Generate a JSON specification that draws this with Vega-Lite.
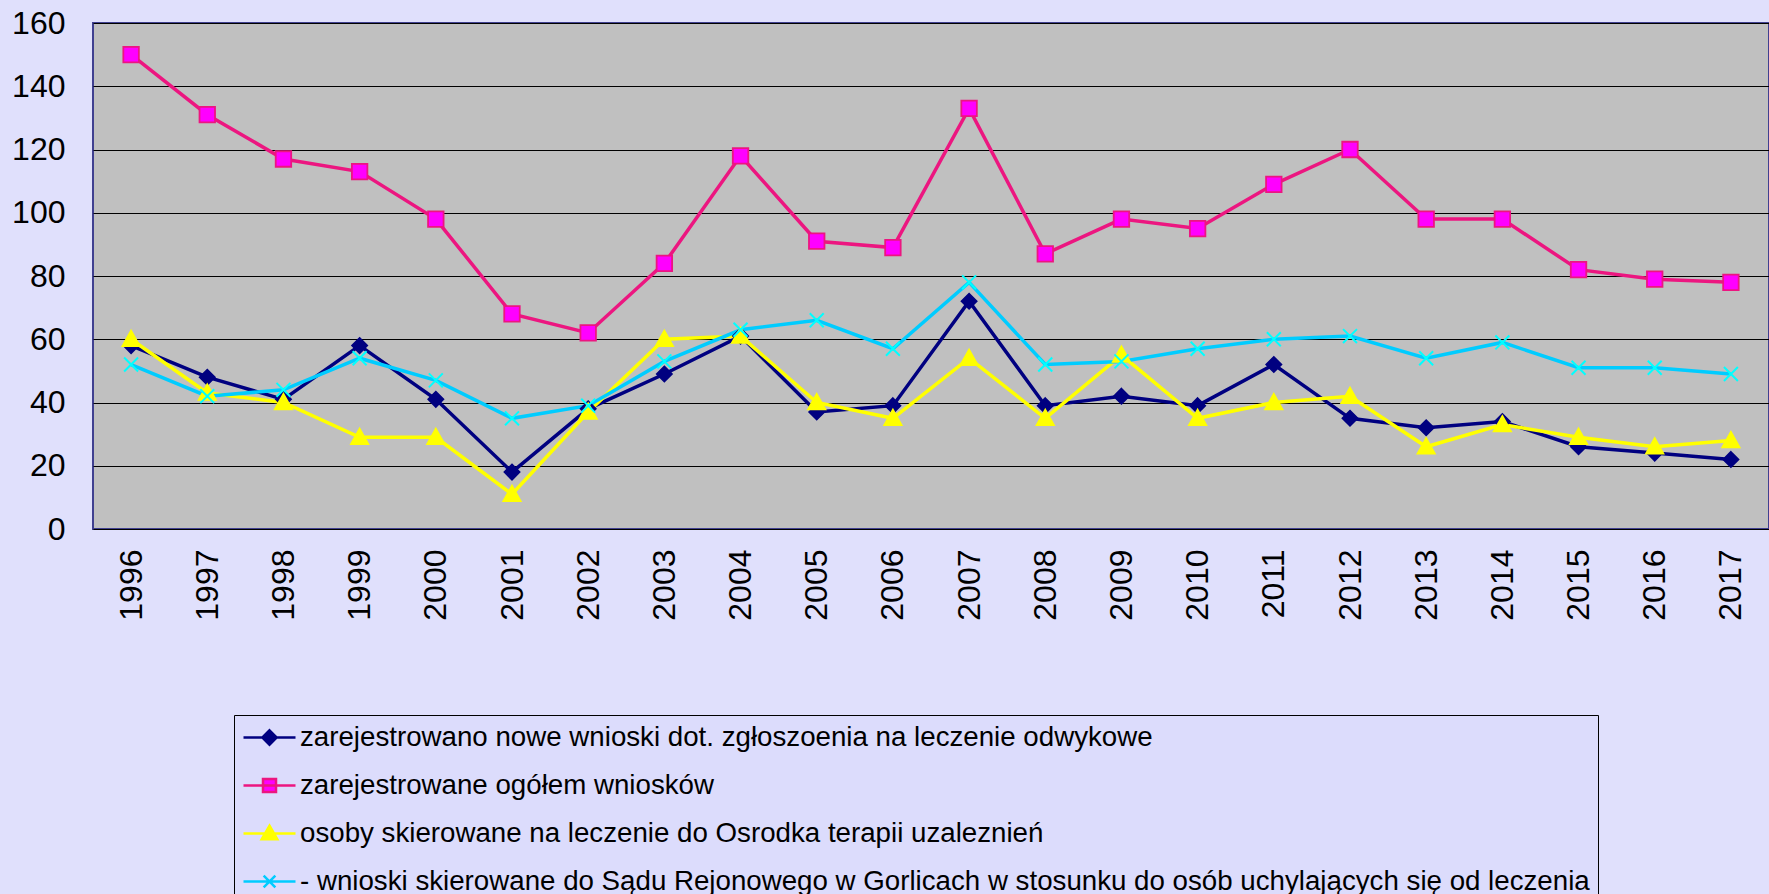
{
  "$schema": "https://vega.github.io/schema/vega-lite/v6.json",
  "width": 1676,
  "height": 506,
  "autosize": {"type": "none"},
  "padding": {"left": 93, "top": 23, "right": 0, "bottom": 365},
  "background": "#e0e0fc",
  "config": {
    "font": "Liberation Sans",
    "view": {"fill": "#c0c0c0", "stroke": "#404090", "strokeWidth": 2}
  },
  "datasets": {
    "rows": [
      {"year": "1996", "series": "zarejestrowano  nowe wnioski dot. zgłoszoenia  na leczenie odwykowe", "value": 58},
      {"year": "1997", "series": "zarejestrowano  nowe wnioski dot. zgłoszoenia  na leczenie odwykowe", "value": 48},
      {"year": "1998", "series": "zarejestrowano  nowe wnioski dot. zgłoszoenia  na leczenie odwykowe", "value": 41},
      {"year": "1999", "series": "zarejestrowano  nowe wnioski dot. zgłoszoenia  na leczenie odwykowe", "value": 58},
      {"year": "2000", "series": "zarejestrowano  nowe wnioski dot. zgłoszoenia  na leczenie odwykowe", "value": 41},
      {"year": "2001", "series": "zarejestrowano  nowe wnioski dot. zgłoszoenia  na leczenie odwykowe", "value": 18},
      {"year": "2002", "series": "zarejestrowano  nowe wnioski dot. zgłoszoenia  na leczenie odwykowe", "value": 38},
      {"year": "2003", "series": "zarejestrowano  nowe wnioski dot. zgłoszoenia  na leczenie odwykowe", "value": 49},
      {"year": "2004", "series": "zarejestrowano  nowe wnioski dot. zgłoszoenia  na leczenie odwykowe", "value": 61},
      {"year": "2005", "series": "zarejestrowano  nowe wnioski dot. zgłoszoenia  na leczenie odwykowe", "value": 37},
      {"year": "2006", "series": "zarejestrowano  nowe wnioski dot. zgłoszoenia  na leczenie odwykowe", "value": 39},
      {"year": "2007", "series": "zarejestrowano  nowe wnioski dot. zgłoszoenia  na leczenie odwykowe", "value": 72},
      {"year": "2008", "series": "zarejestrowano  nowe wnioski dot. zgłoszoenia  na leczenie odwykowe", "value": 39},
      {"year": "2009", "series": "zarejestrowano  nowe wnioski dot. zgłoszoenia  na leczenie odwykowe", "value": 42},
      {"year": "2010", "series": "zarejestrowano  nowe wnioski dot. zgłoszoenia  na leczenie odwykowe", "value": 39},
      {"year": "2011", "series": "zarejestrowano  nowe wnioski dot. zgłoszoenia  na leczenie odwykowe", "value": 52},
      {"year": "2012", "series": "zarejestrowano  nowe wnioski dot. zgłoszoenia  na leczenie odwykowe", "value": 35},
      {"year": "2013", "series": "zarejestrowano  nowe wnioski dot. zgłoszoenia  na leczenie odwykowe", "value": 32},
      {"year": "2014", "series": "zarejestrowano  nowe wnioski dot. zgłoszoenia  na leczenie odwykowe", "value": 34},
      {"year": "2015", "series": "zarejestrowano  nowe wnioski dot. zgłoszoenia  na leczenie odwykowe", "value": 26},
      {"year": "2016", "series": "zarejestrowano  nowe wnioski dot. zgłoszoenia  na leczenie odwykowe", "value": 24},
      {"year": "2017", "series": "zarejestrowano  nowe wnioski dot. zgłoszoenia  na leczenie odwykowe", "value": 22},
      {"year": "1996", "series": "zarejestrowane ogółem wniosków", "value": 150},
      {"year": "1997", "series": "zarejestrowane ogółem wniosków", "value": 131},
      {"year": "1998", "series": "zarejestrowane ogółem wniosków", "value": 117},
      {"year": "1999", "series": "zarejestrowane ogółem wniosków", "value": 113},
      {"year": "2000", "series": "zarejestrowane ogółem wniosków", "value": 98},
      {"year": "2001", "series": "zarejestrowane ogółem wniosków", "value": 68},
      {"year": "2002", "series": "zarejestrowane ogółem wniosków", "value": 62},
      {"year": "2003", "series": "zarejestrowane ogółem wniosków", "value": 84},
      {"year": "2004", "series": "zarejestrowane ogółem wniosków", "value": 118},
      {"year": "2005", "series": "zarejestrowane ogółem wniosków", "value": 91},
      {"year": "2006", "series": "zarejestrowane ogółem wniosków", "value": 89},
      {"year": "2007", "series": "zarejestrowane ogółem wniosków", "value": 133},
      {"year": "2008", "series": "zarejestrowane ogółem wniosków", "value": 87},
      {"year": "2009", "series": "zarejestrowane ogółem wniosków", "value": 98},
      {"year": "2010", "series": "zarejestrowane ogółem wniosków", "value": 95},
      {"year": "2011", "series": "zarejestrowane ogółem wniosków", "value": 109},
      {"year": "2012", "series": "zarejestrowane ogółem wniosków", "value": 120},
      {"year": "2013", "series": "zarejestrowane ogółem wniosków", "value": 98},
      {"year": "2014", "series": "zarejestrowane ogółem wniosków", "value": 98},
      {"year": "2015", "series": "zarejestrowane ogółem wniosków", "value": 82},
      {"year": "2016", "series": "zarejestrowane ogółem wniosków", "value": 79},
      {"year": "2017", "series": "zarejestrowane ogółem wniosków", "value": 78},
      {"year": "1996", "series": "osoby skierowane na leczenie do Osrodka terapii uzaleznień", "value": 60},
      {"year": "1997", "series": "osoby skierowane na leczenie do Osrodka terapii uzaleznień", "value": 43},
      {"year": "1998", "series": "osoby skierowane na leczenie do Osrodka terapii uzaleznień", "value": 40},
      {"year": "1999", "series": "osoby skierowane na leczenie do Osrodka terapii uzaleznień", "value": 29},
      {"year": "2000", "series": "osoby skierowane na leczenie do Osrodka terapii uzaleznień", "value": 29},
      {"year": "2001", "series": "osoby skierowane na leczenie do Osrodka terapii uzaleznień", "value": 11},
      {"year": "2002", "series": "osoby skierowane na leczenie do Osrodka terapii uzaleznień", "value": 37},
      {"year": "2003", "series": "osoby skierowane na leczenie do Osrodka terapii uzaleznień", "value": 60},
      {"year": "2004", "series": "osoby skierowane na leczenie do Osrodka terapii uzaleznień", "value": 61},
      {"year": "2005", "series": "osoby skierowane na leczenie do Osrodka terapii uzaleznień", "value": 40},
      {"year": "2006", "series": "osoby skierowane na leczenie do Osrodka terapii uzaleznień", "value": 35},
      {"year": "2007", "series": "osoby skierowane na leczenie do Osrodka terapii uzaleznień", "value": 54},
      {"year": "2008", "series": "osoby skierowane na leczenie do Osrodka terapii uzaleznień", "value": 35},
      {"year": "2009", "series": "osoby skierowane na leczenie do Osrodka terapii uzaleznień", "value": 55},
      {"year": "2010", "series": "osoby skierowane na leczenie do Osrodka terapii uzaleznień", "value": 35},
      {"year": "2011", "series": "osoby skierowane na leczenie do Osrodka terapii uzaleznień", "value": 40},
      {"year": "2012", "series": "osoby skierowane na leczenie do Osrodka terapii uzaleznień", "value": 42},
      {"year": "2013", "series": "osoby skierowane na leczenie do Osrodka terapii uzaleznień", "value": 26},
      {"year": "2014", "series": "osoby skierowane na leczenie do Osrodka terapii uzaleznień", "value": 33},
      {"year": "2015", "series": "osoby skierowane na leczenie do Osrodka terapii uzaleznień", "value": 29},
      {"year": "2016", "series": "osoby skierowane na leczenie do Osrodka terapii uzaleznień", "value": 26},
      {"year": "2017", "series": "osoby skierowane na leczenie do Osrodka terapii uzaleznień", "value": 28},
      {"year": "1996", "series": "- wnioski skierowane do Sądu Rejonowego w Gorlicach w stosunku do osób uchylających się od leczenia", "value": 52},
      {"year": "1997", "series": "- wnioski skierowane do Sądu Rejonowego w Gorlicach w stosunku do osób uchylających się od leczenia", "value": 42},
      {"year": "1998", "series": "- wnioski skierowane do Sądu Rejonowego w Gorlicach w stosunku do osób uchylających się od leczenia", "value": 44},
      {"year": "1999", "series": "- wnioski skierowane do Sądu Rejonowego w Gorlicach w stosunku do osób uchylających się od leczenia", "value": 54},
      {"year": "2000", "series": "- wnioski skierowane do Sądu Rejonowego w Gorlicach w stosunku do osób uchylających się od leczenia", "value": 47},
      {"year": "2001", "series": "- wnioski skierowane do Sądu Rejonowego w Gorlicach w stosunku do osób uchylających się od leczenia", "value": 35},
      {"year": "2002", "series": "- wnioski skierowane do Sądu Rejonowego w Gorlicach w stosunku do osób uchylających się od leczenia", "value": 39},
      {"year": "2003", "series": "- wnioski skierowane do Sądu Rejonowego w Gorlicach w stosunku do osób uchylających się od leczenia", "value": 53},
      {"year": "2004", "series": "- wnioski skierowane do Sądu Rejonowego w Gorlicach w stosunku do osób uchylających się od leczenia", "value": 63},
      {"year": "2005", "series": "- wnioski skierowane do Sądu Rejonowego w Gorlicach w stosunku do osób uchylających się od leczenia", "value": 66},
      {"year": "2006", "series": "- wnioski skierowane do Sądu Rejonowego w Gorlicach w stosunku do osób uchylających się od leczenia", "value": 57},
      {"year": "2007", "series": "- wnioski skierowane do Sądu Rejonowego w Gorlicach w stosunku do osób uchylających się od leczenia", "value": 78},
      {"year": "2008", "series": "- wnioski skierowane do Sądu Rejonowego w Gorlicach w stosunku do osób uchylających się od leczenia", "value": 52},
      {"year": "2009", "series": "- wnioski skierowane do Sądu Rejonowego w Gorlicach w stosunku do osób uchylających się od leczenia", "value": 53},
      {"year": "2010", "series": "- wnioski skierowane do Sądu Rejonowego w Gorlicach w stosunku do osób uchylających się od leczenia", "value": 57},
      {"year": "2011", "series": "- wnioski skierowane do Sądu Rejonowego w Gorlicach w stosunku do osób uchylających się od leczenia", "value": 60},
      {"year": "2012", "series": "- wnioski skierowane do Sądu Rejonowego w Gorlicach w stosunku do osób uchylających się od leczenia", "value": 61},
      {"year": "2013", "series": "- wnioski skierowane do Sądu Rejonowego w Gorlicach w stosunku do osób uchylających się od leczenia", "value": 54},
      {"year": "2014", "series": "- wnioski skierowane do Sądu Rejonowego w Gorlicach w stosunku do osób uchylających się od leczenia", "value": 59},
      {"year": "2015", "series": "- wnioski skierowane do Sądu Rejonowego w Gorlicach w stosunku do osób uchylających się od leczenia", "value": 51},
      {"year": "2016", "series": "- wnioski skierowane do Sądu Rejonowego w Gorlicach w stosunku do osób uchylających się od leczenia", "value": 51},
      {"year": "2017", "series": "- wnioski skierowane do Sądu Rejonowego w Gorlicach w stosunku do osób uchylających się od leczenia", "value": 49}
    ]
  },
  "data": {"name": "rows"},
  "encoding": {
    "x": {
      "field": "year",
      "type": "ordinal",
      "scale": {"type": "point", "padding": 0.5},
      "axis": {
        "title": null,
        "labelAngle": -90,
        "labelFontSize": 32,
        "labelColor": "#000000",
        "labelPadding": 20,
        "ticks": false,
        "domain": false,
        "grid": false
      }
    },
    "y": {
      "field": "value",
      "type": "quantitative",
      "scale": {"domain": [0, 160], "nice": false},
      "axis": {
        "title": null,
        "values": [0, 20, 40, 60, 80, 100, 120, 140, 160],
        "labelFontSize": 32,
        "labelColor": "#000000",
        "labelPadding": 28,
        "ticks": false,
        "domain": false,
        "grid": true,
        "gridColor": "#000000",
        "gridWidth": 1,
        "gridOpacity": 1
      }
    }
  },
  "layer": [
    {
      "mark": {"type": "line", "strokeWidth": 3.5},
      "encoding": {
        "color": {
          "field": "series",
          "type": "nominal",
          "scale": {
            "domain": [
              "zarejestrowano  nowe wnioski dot. zgłoszoenia  na leczenie odwykowe",
              "zarejestrowane ogółem wniosków",
              "osoby skierowane na leczenie do Osrodka terapii uzaleznień",
              "- wnioski skierowane do Sądu Rejonowego w Gorlicach w stosunku do osób uchylających się od leczenia"
            ],
            "range": ["#000080", "#ec1680", "#ffff00", "#00ccff"]
          },
          "legend": {
            "title": null,
            "orient": "none",
            "legendX": 141,
            "legendY": 692,
            "direction": "vertical",
            "padding": 8,
            "fillColor": "#dcdcfc",
            "strokeColor": "#000000",
            "labelFont": "Liberation Sans",
            "labelFontSize": 27.7,
            "labelColor": "#000000",
            "labelLimit": 3000,
            "labelOffset": 29,
            "rowPadding": 19,
            "symbolSize": 676,
            "symbolStrokeWidth": 2.5,
            "encode": {
              "symbols": {
                "update": {
                  "shape": {"signal": "['M-1,0H3M1,-0.55L1.55,0L1,0.55L0.45,0Z','M-1,0H3M0.5,-0.5H1.5V0.5H0.5Z','M-1,0H3M1,-0.6L1.6,0.45H0.4Z','M-1,0H3M0.55,-0.45L1.45,0.45M0.55,0.45L1.45,-0.45'][indexof(domain('color'), datum.value)]"},
                  "fill": {"signal": "['#000080','#ff00ff','#ffff00','#00ffff'][indexof(domain('color'), datum.value)]"},
                  "stroke": {"signal": "['#000080','#ec1680','#ffff00','#00ccff'][indexof(domain('color'), datum.value)]"},
                  "strokeWidth": {"value": 2.5},
                  "opacity": {"value": 1}
                }
              }
            }
          }
        }
      }
    },
    {
      "transform": [{"filter": {"field": "series", "equal": "zarejestrowano  nowe wnioski dot. zgłoszoenia  na leczenie odwykowe"}}],
      "mark": {"type": "point", "shape": "M0,-1L1,0L0,1L-1,0Z", "filled": true, "fill": "#000080", "stroke": "#000080", "opacity": 1, "size": 240, "strokeWidth": 1.5}
    },
    {
      "transform": [{"filter": {"field": "series", "equal": "zarejestrowane ogółem wniosków"}}],
      "mark": {"type": "point", "shape": "M-1,-1H1V1H-1Z", "filled": true, "fill": "#ff00ff", "stroke": "#ec1680", "opacity": 1, "size": 240, "strokeWidth": 1.8}
    },
    {
      "transform": [{"filter": {"field": "series", "equal": "osoby skierowane na leczenie do Osrodka terapii uzaleznień"}}],
      "mark": {"type": "point", "shape": "M0,-1.15L1.15,0.9H-1.15Z", "filled": true, "fill": "#ffff00", "stroke": "#ffff00", "opacity": 1, "size": 240, "strokeWidth": 1.5}
    },
    {
      "transform": [{"filter": {"field": "series", "equal": "- wnioski skierowane do Sądu Rejonowego w Gorlicach w stosunku do osób uchylających się od leczenia"}}],
      "mark": {"type": "point", "shape": "M-0.9,-0.9L0.9,0.9M-0.9,0.9L0.9,-0.9", "filled": false, "fill": "transparent", "stroke": "#00ffff", "opacity": 1, "size": 240, "strokeWidth": 2}
    }
  ]
}
